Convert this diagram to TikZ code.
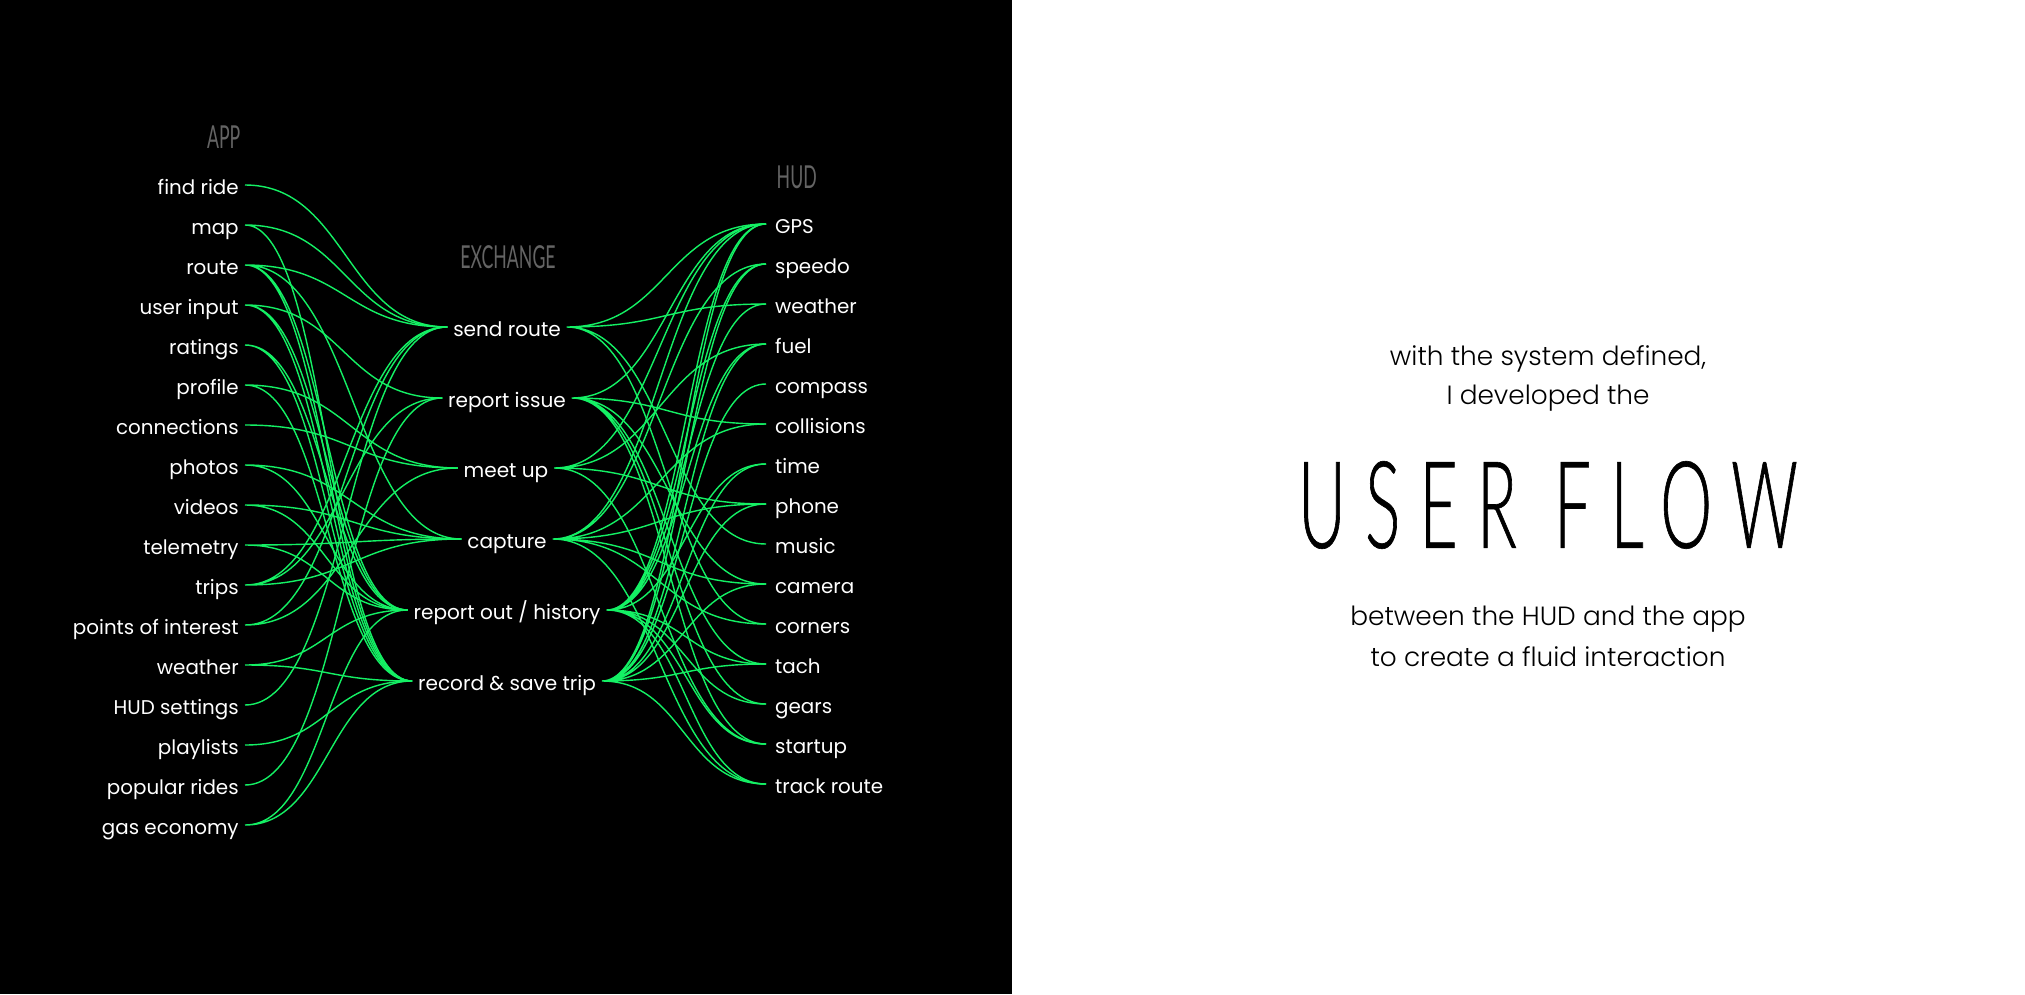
\documentclass[tikz,border=0pt]{standalone}
\usepackage{fontspec}
\setmainfont{Poppins}
\newfontfamily\headfont[FakeStretch=0.56]{Lato}
\newfontfamily\titlefont[FakeStretch=0.54,FakeBold=0.5]{Lato Light}
\newfontfamily\lightfont{Poppins Light}
\usetikzlibrary{calc}
\definecolor{flowgreen}{RGB}{20,240,100}
\definecolor{headgray}{RGB}{100,100,100}
\tikzset{
  app/.style={anchor=mid east, inner xsep=1.6pt, inner ysep=0pt, text=white, font=\fontsize{5.65}{7}\selectfont},
  hud/.style={anchor=mid west, inner xsep=2.4pt, inner ysep=0pt, text=white, font=\fontsize{5.65}{7}\selectfont},
  exch/.style={anchor=mid, inner xsep=1.5pt, inner ysep=0pt, text=white, font=\fontsize{5.7}{7}\selectfont},
  head/.style={text=headgray, inner sep=0pt, font=\headfont\fontsize{9}{10}\selectfont},
  note/.style={text=black, inner sep=0pt, font=\lightfont\fontsize{7.5}{9}\selectfont},
  link/.style={draw=flowgreen, line width=0.4pt,
    to path={let \p1=(\tikztostart), \p2=(\tikztotarget) in
      .. controls ({(\x1+\x2)/2},\y1) and ({(\x1+\x2)/2},\y2) .. (\tikztotarget)}},
}
\begin{document}
\begin{tikzpicture}[x=0.01cm,y=-0.01cm]
\useasboundingbox (0,0) rectangle (2025,994);
\fill[white] (0,0) rectangle (2025,994);
\fill[black] (0,0) rectangle (1012,994);

% column heads
\node[head, anchor=east] (apphead) at (241,137) {APP};
\node[head] (exchead) at (508,257) {EXCHANGE};
\node[head, anchor=west] (hudhead) at (776,177) {HUD};

% app side
\node[app] (findride) at (245,185) {find ride};
\node[app] (map) at (245,225) {map};
\node[app] (route) at (245,265) {route};
\node[app] (userinput) at (245,305) {user input};
\node[app] (ratings) at (245,345) {ratings};
\node[app] (profile) at (245,385) {profile};
\node[app] (connections) at (245,425) {connections};
\node[app] (photos) at (245,465) {photos};
\node[app] (videos) at (245,505) {videos};
\node[app] (telemetry) at (245,545) {telemetry};
\node[app] (trips) at (245,585) {trips};
\node[app] (poi) at (245,625) {points of interest};
\node[app] (appweather) at (245,665) {weather};
\node[app] (hudsettings) at (245,705) {HUD settings};
\node[app] (playlists) at (245,745) {playlists};
\node[app] (popular) at (245,785) {popular rides};
\node[app] (gaseco) at (245,825) {gas economy};

% exchange
\node[exch] (sendroute) at (507,327) {send route};
\node[exch] (reportissue) at (507,398) {report issue};
\node[exch] (meetup) at (506,468) {meet up};
\node[exch] (capture) at (507,539) {capture};
\node[exch] (reportout) at (507,610) {report out / history};
\node[exch] (recordtrip) at (507,681) {record \& save trip};

% hud side
\node[hud] (gps) at (766,224) {GPS};
\node[hud] (speedo) at (766,264) {speedo};
\node[hud] (hudweather) at (766,304) {weather};
\node[hud] (fuel) at (766,344) {fuel};
\node[hud] (compass) at (766,384) {compass};
\node[hud] (collisions) at (766,424) {collisions};
\node[hud] (time) at (766,464) {time};
\node[hud] (phone) at (766,504) {phone};
\node[hud] (music) at (766,544) {music};
\node[hud] (camera) at (766,584) {camera};
\node[hud] (corners) at (766,624) {corners};
\node[hud] (tach) at (766,664) {tach};
\node[hud] (gears) at (766,704) {gears};
\node[hud] (startup) at (766,744) {startup};
\node[hud] (trackroute) at (766,784) {track route};

% app -> exchange
\draw[link] (findride.mid east) to (sendroute.mid west);
\draw[link] (map.mid east) to (sendroute.mid west) (map.mid east) to (recordtrip.mid west);
\draw[link] (route.mid east) to (sendroute.mid west) (route.mid east) to (capture.mid west)
  (route.mid east) to (reportout.mid west) (route.mid east) to (recordtrip.mid west);
\draw[link] (userinput.mid east) to (reportissue.mid west) (userinput.mid east) to (reportout.mid west)
  (userinput.mid east) to (recordtrip.mid west);
\draw[link] (ratings.mid east) to (reportout.mid west) (ratings.mid east) to (recordtrip.mid west);
\draw[link] (profile.mid east) to (meetup.mid west) (profile.mid east) to (recordtrip.mid west);
\draw[link] (connections.mid east) to (meetup.mid west);
\draw[link] (photos.mid east) to (capture.mid west) (photos.mid east) to (reportout.mid west);
\draw[link] (videos.mid east) to (capture.mid west) (videos.mid east) to (reportout.mid west);
\draw[link] (telemetry.mid east) to (capture.mid west) (telemetry.mid east) to (reportout.mid west);
\draw[link] (trips.mid east) to (sendroute.mid west) (trips.mid east) to (reportissue.mid west)
  (trips.mid east) to (capture.mid west);
\draw[link] (poi.mid east) to (sendroute.mid west) (poi.mid east) to (meetup.mid west);
\draw[link] (appweather.mid east) to (reportout.mid west) (appweather.mid east) to (recordtrip.mid west);
\draw[link] (hudsettings.mid east) to (sendroute.mid west);
\draw[link] (playlists.mid east) to (recordtrip.mid west);
\draw[link] (popular.mid east) to (reportissue.mid west);
\draw[link] (gaseco.mid east) to (reportout.mid west) (gaseco.mid east) to (recordtrip.mid west);

% exchange -> hud
\draw[link] (sendroute.mid east) to (gps.mid west) (sendroute.mid east) to (hudweather.mid west)
  (sendroute.mid east) to (music.mid west) (sendroute.mid east) to (corners.mid west);
\draw[link] (reportissue.mid east) to (gps.mid west) (reportissue.mid east) to (collisions.mid west)
  (reportissue.mid east) to (camera.mid west) (reportissue.mid east) to (tach.mid west)
  (reportissue.mid east) to (gears.mid west) (reportissue.mid east) to (startup.mid west);
\draw[link] (meetup.mid east) to (gps.mid west) (meetup.mid east) to (fuel.mid west)
  (meetup.mid east) to (phone.mid west) (meetup.mid east) to (startup.mid west);
\draw[link] (capture.mid east) to (gps.mid west) (capture.mid east) to (speedo.mid west)
  (capture.mid east) to (collisions.mid west) (capture.mid east) to (phone.mid west)
  (capture.mid east) to (camera.mid west) (capture.mid east) to (corners.mid west)
  (capture.mid east) to (trackroute.mid west);
\draw[link] (reportout.mid east) to (gps.mid west) (reportout.mid east) to (speedo.mid west)
  (reportout.mid east) to (hudweather.mid west) (reportout.mid east) to (fuel.mid west)
  (reportout.mid east) to (time.mid west) (reportout.mid east) to (tach.mid west)
  (reportout.mid east) to (gears.mid west) (reportout.mid east) to (startup.mid west)
  (reportout.mid east) to (trackroute.mid west);
\draw[link] (recordtrip.mid east) to (gps.mid west) (recordtrip.mid east) to (speedo.mid west)
  (recordtrip.mid east) to (fuel.mid west) (recordtrip.mid east) to (compass.mid west)
  (recordtrip.mid east) to (time.mid west) (recordtrip.mid east) to (phone.mid west)
  (recordtrip.mid east) to (camera.mid west) (recordtrip.mid east) to (tach.mid west)
  (recordtrip.mid east) to (trackroute.mid west);

% right page
\node[note] (intro1) at (1548,359) {with the system defined,};
\node[note] (intro2) at (1548,398) {I developed the};
\node[text=black, inner sep=0pt, font=\titlefont\fontsize{34.5}{36}\selectfont\addfontfeature{LetterSpace=16}] (title) at (1548,505) {USER FLOW};
\node[note] (outro1) at (1548,619) {between the HUD and the app};
\node[note] (outro2) at (1548,657) {to create a fluid interaction};
\end{tikzpicture}
\end{document}
